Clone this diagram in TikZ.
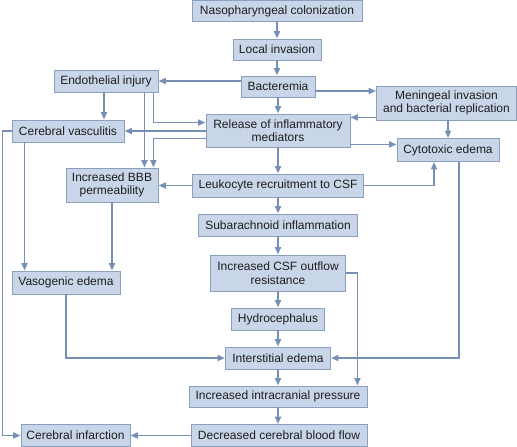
\documentclass[tikz,border=0pt]{standalone}
\usepackage{fontspec}
\setmainfont{Liberation Sans}
\usetikzlibrary{arrows.meta,positioning}
\definecolor{cBox}{HTML}{C9D5E8}
\definecolor{cEdge}{HTML}{8CA0BE}
\definecolor{cLink}{HTML}{7690B5}
\definecolor{cText}{HTML}{1E1E1E}
\tikzset{
  box/.style={draw=cEdge, line width=0.9pt, fill=cBox, text=cText, align=center,
    inner sep=0pt, font=\fontsize{12}{13.5}\selectfont},
  wh/.style 2 args={minimum width=#1pt, minimum height=#2pt},
  flow/.style={-{Triangle[length=7.5pt,width=6pt]}, draw=cLink, line width=1.8pt},
}

\begin{document}
\begin{tikzpicture}[x=1pt, y=-1pt]
    \useasboundingbox (0,0) rectangle (517,447);
    % --- main column ---
    \node[box, wh={170}{21}]  (naso)    at (277,11)    {Nasopharyngeal colonization};
    \node[box, wh={88}{21}]   (local)   at (277,49.5)  {Local invasion};
    \node[box, wh={74}{21}]   (bact)    at (278,86.5)  {Bacteremia};
    \node[box, wh={144}{33}]  (release) at (278,130.5) {Release of inflammatory\\mediators};
    \node[box, wh={171}{23}]  (leuko)   at (278,185.5) {Leukocyte recruitment to CSF};
    \node[box, wh={159}{22}]  (subar)   at (278,225)   {Subarachnoid inflammation};
    \node[box, wh={135}{36}]  (csf)     at (278,273)   {Increased CSF outflow\\resistance};
    \node[box, wh={93}{22}]   (hydro)   at (278,319)   {Hydrocephalus};
    \node[box, wh={105}{22}]  (inter)   at (278,358)   {Interstitial edema};
    \node[box, wh={178}{21}]  (icp)     at (278,396.5) {Increased intracranial pressure};
    \node[box, wh={176}{22}]  (cbf)     at (279,435.5) {Decreased cerebral blood flow};
    % --- left side ---
    \node[box, wh={104}{22}]  (endo)    at (106,81)    {Endothelial injury};
    \node[box, wh={112}{22}]  (vasc)    at (68,131)    {Cerebral vasculitis};
    \node[box, wh={92}{34}]   (bbb)     at (112,185)   {Increased BBB\\permeability};
    \node[box, wh={108}{23}]  (vaso)    at (66,282.5)  {Vasogenic edema};
    \node[box, wh={109}{22}]  (infarct) at (75.5,435.5){Cerebral infarction};
    % --- right side ---
    \node[box, wh={140}{34}]  (men)     at (446.5,103) {Meningeal invasion\\and bacterial replication};
    \node[box, wh={102}{23}]  (cyto)    at (448,150)   {Cytotoxic edema};
    % --- vertical chain ---
    \foreach \a/\b in {naso/local, local/bact, bact/release, release/leuko,
      leuko/subar, subar/csf, csf/hydro, hydro/inter, inter/icp, icp/cbf}
      \draw[flow] (\a.south) -- (\a.south |- \b.north);
    % --- branches ---
    \draw[flow] (bact.west |- endo.east) -- (endo.east);
    \draw[flow] ([yshift=-4.5pt]bact.east) -- ([yshift=-4.5pt]bact.east -| men.west);
    \draw[flow] ([yshift=3pt]men.south west) -- ([yshift=3pt]men.south west -| release.east);
    \draw[flow] (cyto.north |- men.south) -- (cyto.north);
    \draw[flow] ([yshift=3pt]release.south east) -- ([yshift=3pt]release.south east -| cyto.west);
    \draw[flow] ([xshift=-5pt]endo.south east) |- ([yshift=-9pt]release.north west);
    \draw[flow] ([xshift=-14pt]endo.south east) -- ([xshift=-14pt]bbb.north east);
    \draw[flow] ([yshift=9pt]release.south west) -| ([xshift=-5pt]bbb.north east);
    \draw[flow] (release.west |- vasc.east) -- (vasc.east);
    \draw[flow] ([xshift=-2pt]endo.south) -- ([xshift=-2pt]endo.south |- vasc.north);
    \draw[flow] ([xshift=13pt]vasc.south west) -- ([xshift=13pt]vasc.south west |- vaso.north);
    \draw[flow] (vasc.west) -- ++(-9,0) |- (infarct.west);
    \draw[flow] (bbb.south) -- (bbb.south |- vaso.north);
    \draw[flow] (leuko.west) -- (leuko.west -| bbb.east);
    \draw[flow] (leuko.east) -| ([xshift=-14pt]cyto.south);
    \draw[flow] (csf.east) -| ([xshift=-10pt]icp.north east);
    \draw[flow] ([xshift=11pt]cyto.south) |- (inter.east);
    \draw[flow] (vaso.south) |- (inter.west);
    \draw[flow] (cbf.west) -- (infarct.east);
\end{tikzpicture}
\end{document}
